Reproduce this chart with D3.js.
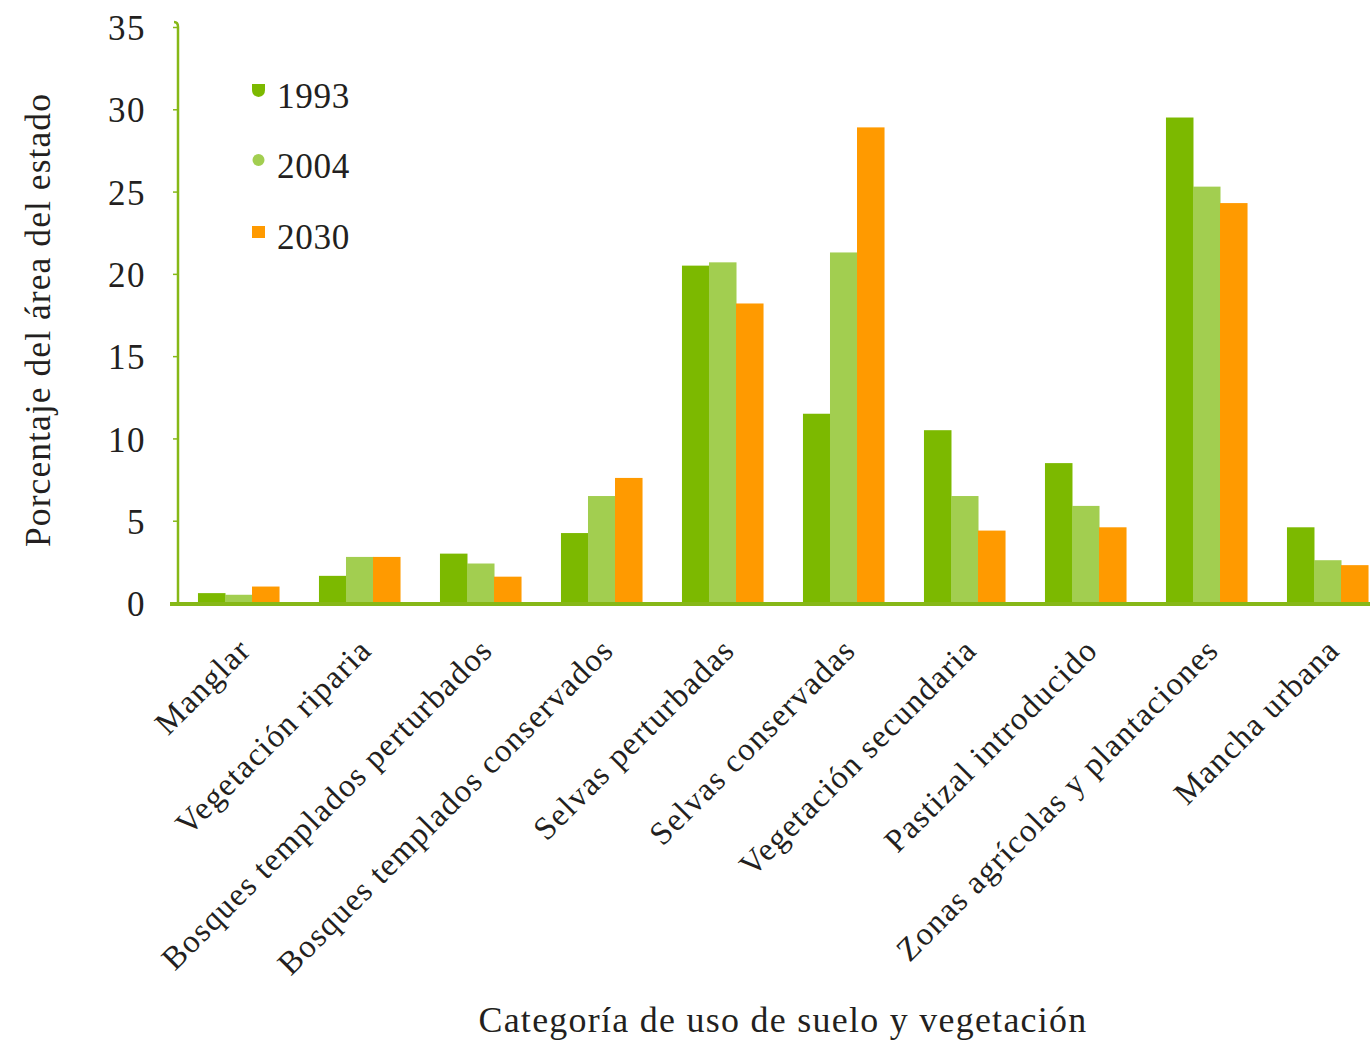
<!DOCTYPE html>
<html><head><meta charset="utf-8">
<script src="https://cdn.jsdelivr.net/npm/d3@7"></script>
<style>body{margin:0;background:#fff}svg{display:block}text{font-family:"Liberation Serif",serif;fill:#231f20}</style>
</head><body><svg id="c" width="1370" height="1042"></svg>
<script>
const categories = ["Manglar","Vegetación riparia","Bosques templados perturbados","Bosques templados conservados","Selvas perturbadas","Selvas conservadas","Vegetación secundaria","Pastizal introducido","Zonas agrícolas y plantaciones","Mancha urbana"];
const seriesNames = ["1993","2004","2030"];
const values1993 = [0.6,1.65,3.0,4.25,20.5,11.5,10.5,8.5,29.5,4.6];
const values2004 = [0.5,2.8,2.4,6.5,20.7,21.3,6.5,5.9,25.3,2.6];
const values2030 = [1.0,2.8,1.6,7.6,18.2,28.9,4.4,4.6,24.3,2.3];
const yTicks = [0,5,10,15,20,25,30,35];
const colors = ["#7cb900","#a2ce50","#ff9a00"];

const svg = d3.select("#c");
const seriesVals = [values1993, values2004, values2030];
const y = d3.scaleLinear().domain([0,35]).range([603,27]);
const x0 = d3.scaleBand().domain(categories).range([178,1388]).paddingInner(0.33).paddingOuter(0.165);
const x1 = d3.scaleBand().domain(seriesNames).range([0,x0.bandwidth()]).padding(0);

// widen text toward a target width: half by size, rest by spacing
function fit(t, target, base){
  const w0 = t.node().getComputedTextLength();
  const s = Math.sqrt(target / w0);
  const fs = base * s;
  t.attr("font-size", fs.toFixed(1));
  const w1 = t.node().getComputedTextLength();
  const n = t.text().length;
  const ls = (target - w1) / n;
  t.attr("letter-spacing", ls.toFixed(2));
  return {fs, ls};
}

// bars
const g = svg.append("g");
categories.forEach((c,i)=>{
  seriesNames.forEach((s,j)=>{
    g.append("rect").attr("x",x0(c)+x1(s)).attr("width",x1.bandwidth()+0.5)
     .attr("y",y(seriesVals[j][i])).attr("height",y(0)-y(seriesVals[j][i]))
     .attr("fill",colors[j]);
  });
});

// y axis
const ya = svg.append("g").attr("transform","translate(178,0)")
  .call(d3.axisLeft(y).tickValues(yTicks).tickSize(5).tickPadding(27).tickFormat(d3.format("d")));
ya.select(".domain").attr("stroke","#86b817").attr("stroke-width",2.5).attr("d","M-4,22 Q0,22 0,27 V603");
ya.selectAll(".tick line").attr("stroke","#86b817").attr("stroke-width",1.5);
ya.selectAll(".tick text").attr("font-size",35).attr("font-family","Liberation Serif").attr("fill","#231f20").attr("letter-spacing",1.5).attr("dy","0.36em");

// x axis
svg.append("line").attr("x1",170).attr("x2",1370).attr("y1",y(0)+1).attr("y2",y(0)+1)
  .attr("stroke","#86b817").attr("stroke-width",4);
const xa = svg.append("g").attr("transform",`translate(0,${y(0)+1})`)
  .call(d3.axisBottom(x0).tickSize(0).tickPadding(0).tickFormat(""));
xa.select(".domain").remove();

// category labels
const labs = categories.map(c=>{
  const cx = x0(c)+x0.bandwidth()/2+14;
  return svg.append("text").attr("transform",`translate(${cx},652) rotate(-45)`)
    .attr("text-anchor","end").attr("font-size",30).text(c);
});
const f = fit(labs[2], 452, 30);
labs.forEach(t=>t.attr("font-size",f.fs.toFixed(1)).attr("letter-spacing",f.ls.toFixed(2)));

// axis titles
const xt = svg.append("text").attr("x",783).attr("y",1032).attr("text-anchor","middle").attr("font-size",33)
  .text("Categoría de uso de suelo y vegetación");
fit(xt, 609, 33);
const yt = svg.append("text").attr("transform","translate(50,320) rotate(-90)").attr("text-anchor","middle").attr("font-size",33)
  .text("Porcentaje del área del estado");
fit(yt, 454, 33);

// legend
const lg = svg.append("g");
const ly = [96,166,237];
seriesNames.forEach((s,j)=>{
  if (j===0) lg.append("path").attr("d","M252,84 H265 V90 Q265,96 258.5,97 Q252,96 252,90 Z").attr("fill",colors[j]);
  else if (j===1) lg.append("circle").attr("cx",258.5).attr("cy",ly[j]-6).attr("r",6).attr("fill",colors[j]);
  else lg.append("rect").attr("x",252).attr("y",ly[j]-11).attr("width",13).attr("height",12).attr("fill",colors[j]);
  const t = lg.append("text").attr("x",277).attr("y",ly[j]+12).attr("font-size",34).text(s);
  fit(t, 73, 34);
});
</script></body></html>
